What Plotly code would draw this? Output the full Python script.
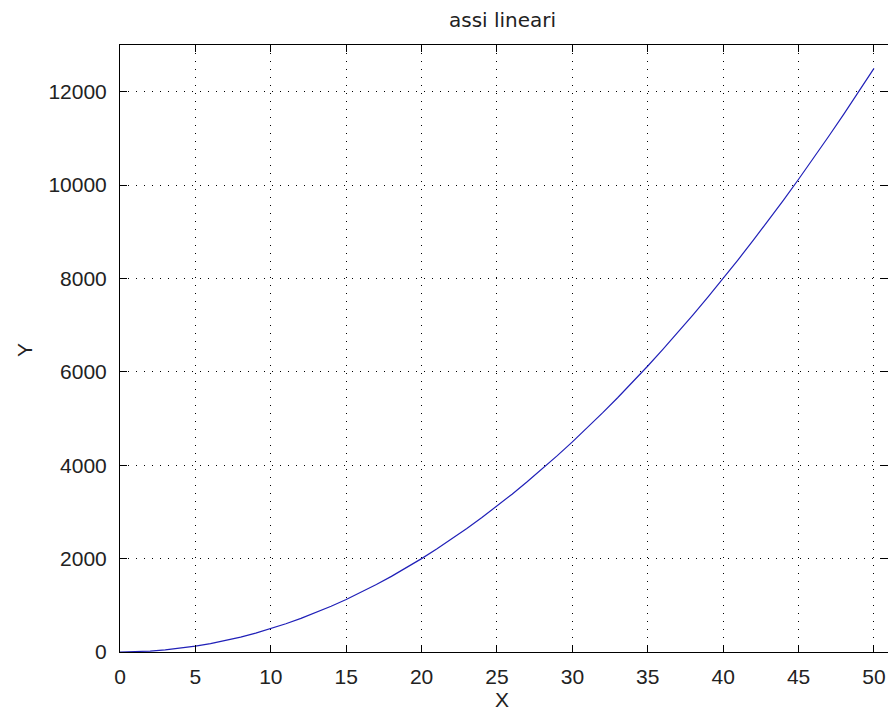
import plotly.graph_objects as go

x_vals = [0, 1, 2, 3, 4, 5, 6, 7, 8, 9, 10, 11, 12, 13, 14, 15, 16, 17, 18, 19, 20,
          21, 22, 23, 24, 25, 26, 27, 28, 29, 30, 31, 32, 33, 34, 35, 36, 37, 38, 39, 40,
          41, 42, 43, 44, 45, 46, 47, 48, 49, 50]
y_vals = [0, 5, 20, 45, 80, 125, 180, 245, 320, 405, 500, 605, 720, 845, 980, 1125,
          1280, 1445, 1620, 1805, 2000, 2205, 2420, 2645, 2880, 3125, 3380, 3645, 3920,
          4205, 4500, 4805, 5120, 5445, 5780, 6125, 6480, 6845, 7220, 7605, 8000, 8405,
          8820, 9245, 9680, 10125, 10580, 11045, 11520, 12005, 12500]
x_ticks = [0, 5, 10, 15, 20, 25, 30, 35, 40, 45, 50]
x_tick_labels = ["0", "5", "10", "15", "20", "25", "30", "35", "40", "45", "50"]
y_ticks = [0, 2000, 4000, 6000, 8000, 10000, 12000]
y_tick_labels = ["0", "2000", "4000", "6000", "8000", "10000", "12000"]

title_text = "assi lineari"
x_label = "X"
y_label = "Y"

FONT = "Liberation Sans, Arial, sans-serif"
TFONT = "DejaVu Sans, sans-serif"

fig = go.Figure()
fig.add_trace(go.Scatter(x=x_vals, y=y_vals, mode="lines",
                         line=dict(color="#2020b8", width=1.2), showlegend=False))

axis_common = dict(
    showline=True, linecolor="black", linewidth=1, mirror="ticks",
    ticks="inside", ticklen=7, tickwidth=1, tickcolor="black",
    showgrid=True, gridcolor="black", gridwidth=1, griddash="1px,7px",
    zeroline=False, tickfont=dict(family=FONT, size=21, color="#222222"),
)

fig.update_xaxes(range=[0, 50.93], tickvals=x_ticks, ticktext=x_tick_labels,
                 ticklabelstandoff=6, **axis_common)
fig.update_yaxes(range=[0, 13000], tickvals=y_ticks, ticktext=y_tick_labels,
                 ticklabelstandoff=8, **axis_common)

fig.update_layout(
    width=888, height=710,
    margin=dict(l=120, r=0, t=45, b=58),
    plot_bgcolor="white", paper_bgcolor="white",
    annotations=[
        dict(text=title_text, xref="paper", yref="paper", x=(502 - 120) / 768, y=(652 - 20) / 607,
             showarrow=False, font=dict(family=TFONT, size=20, color="#222222"),
             xanchor="center", yanchor="middle"),
        dict(text=x_label, xref="paper", yref="paper", x=(502 - 120) / 768, y=(652 - 699) / 607,
             showarrow=False, font=dict(family=FONT, size=21, color="#222222"),
             xanchor="center", yanchor="middle"),
        dict(text=y_label, xref="paper", yref="paper", x=(24 - 120) / 768, y=(652 - 350) / 607,
             showarrow=False, textangle=-90, font=dict(family=FONT, size=21, color="#222222"),
             xanchor="center", yanchor="middle"),
    ],
)

fig.write_html("out.html")
